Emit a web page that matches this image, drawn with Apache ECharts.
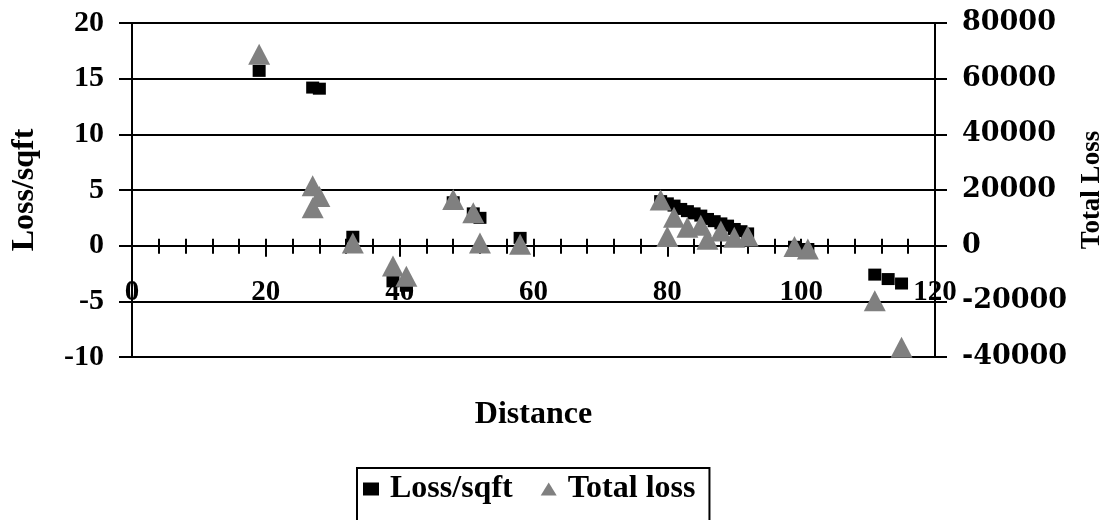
<!DOCTYPE html>
<html>
<head>
<meta charset="utf-8">
<script src="https://cdn.jsdelivr.net/npm/echarts@6/dist/echarts.min.js"></script>
<style>
html,body{margin:0;padding:0;background:#fff;}
#chart{width:1103px;height:520px;}
</style>
</head>
<body>
<div id="chart"></div>
<script>
// Data
const lossX = [19, 27, 28, 33, 39, 41, 48, 51, 52, 58, 79, 80, 81, 82, 83, 84, 85, 86, 87, 88, 89, 90, 91, 92, 99, 101, 111, 113, 115];
const lossY = [15.7, 14.2, 14.1, 0.8, -3.2, -3.6, 3.9, 2.9, 2.5, 0.7, 4.0, 3.8, 3.6, 3.3, 3.1, 2.9, 2.7, 2.4, 2.2, 2.0, 1.8, 1.5, 1.3, 1.1, -0.1, -0.3, -2.6, -3.0, -3.4];
const totalX = [19, 27, 28, 27, 33, 39, 41, 48, 51, 52, 58, 79, 80, 81, 83, 85, 86, 88, 90, 92, 99, 101, 111, 115];
const totalY = [68800, 21500, 17700, 13600, 1000, -7300, -11000, 16600, 11800, 1000, 500, 16400, 3300, 10200, 6600, 7300, 2300, 5300, 3000, 3500, -300, -1200, -19800, -36500];
const seriesNames = ['Loss/sqft', 'Total loss'];
const axisTitles = {x: 'Distance', yLeft: 'Loss/sqft', yRight: 'Total Loss'};

const FONT = 'Liberation Serif';
const pairs = (xs, ys) => xs.map((x, i) => [x, ys[i]]);
const black = '#000';

const chart = echarts.init(document.getElementById('chart'));
chart.setOption({
  animation: false,
  backgroundColor: '#fff',
  grid: {left: 132, right: 168, top: 23, bottom: 163, containLabel: false, outerBoundsMode: 'none'},
  legend: {
    data: [{name: seriesNames[0], icon: 'rect'}, {name: seriesNames[1], icon: 'triangle'}],
    left: 357, top: 468,
    orient: 'horizontal',
    itemWidth: 16, itemHeight: 13, itemGap: 28,
    padding: [5, 14, 24, 6],
    borderColor: black, borderWidth: 2,
    textStyle: {fontFamily: FONT, fontWeight: 'bold', fontSize: 32, color: black, padding: [0, 0, 0, 6]}
  },
  xAxis: [{
    type: 'value', min: 0, max: 120, interval: 20,
    name: axisTitles.x, nameLocation: 'middle', nameGap: 42,
    nameTextStyle: {fontFamily: FONT, fontWeight: 'bold', fontSize: 32, color: black},
    axisLine: {show: true, onZero: true, onZeroAxisIndex: 0, lineStyle: {color: black, width: 2}},
    axisTick: {show: true, length: 11, lineStyle: {color: black, width: 2}},
    minorTick: {show: true, splitNumber: 5, length: 8, lineStyle: {color: black, width: 2}},
    splitLine: {show: false},
    axisLabel: {margin: -79, showMinLabel: true, showMaxLabel: true, fontFamily: FONT, fontWeight: 'bold', fontSize: 29, color: black}
  }, {
    type: 'value', min: 0, max: 120, interval: 4, position: 'bottom',
    axisLine: {show: false, onZero: true, onZeroAxisIndex: 1},
    axisTick: {show: true, inside: true, length: 7, lineStyle: {color: black, width: 2}},
    axisLabel: {show: false},
    splitLine: {show: false}
  }],
  yAxis: [{
    type: 'value', position: 'left', min: -10, max: 20, interval: 5,
    name: axisTitles.yLeft, nameLocation: 'middle', nameGap: 91, nameRotate: 90,
    nameTextStyle: {fontFamily: FONT, fontWeight: 'bold', fontSize: 32, color: black},
    axisLine: {show: true, onZero: false, lineStyle: {color: black, width: 2}},
    axisTick: {show: true, length: 13, lineStyle: {color: black, width: 2}},
    splitLine: {show: true, lineStyle: {color: black, width: 2}},
    axisLabel: {margin: 28, fontFamily: FONT, fontWeight: 'bold', fontSize: 30, color: black}
  }, {
    type: 'value', position: 'right', min: -40000, max: 80000, interval: 20000,
    name: axisTitles.yRight, nameLocation: 'middle', nameGap: 141, nameRotate: 90,
    nameTextStyle: {fontFamily: FONT, fontWeight: 'bold', fontSize: 27, color: black},
    axisLine: {show: true, onZero: false, lineStyle: {color: black, width: 2}},
    axisTick: {show: true, length: 12, lineStyle: {color: black, width: 2}},
    splitLine: {show: false},
    axisLabel: {margin: 27, formatter: v => String(v), fontFamily: 'DejaVu Serif', fontWeight: 'bold', fontSize: 27, color: black}
  }],
  series: [{
    name: seriesNames[0], type: 'scatter', xAxisIndex: 0, yAxisIndex: 0,
    symbol: 'rect', symbolSize: [13, 12],
    itemStyle: {color: black, opacity: 1},
    data: pairs(lossX, lossY), z: 3
  }, {
    name: seriesNames[1], type: 'scatter', xAxisIndex: 0, yAxisIndex: 1,
    symbol: 'triangle', symbolSize: [22, 21],
    itemStyle: {color: '#808080', opacity: 1},
    data: pairs(totalX, totalY), z: 4
  }]
});
</script>
</body>
</html>
